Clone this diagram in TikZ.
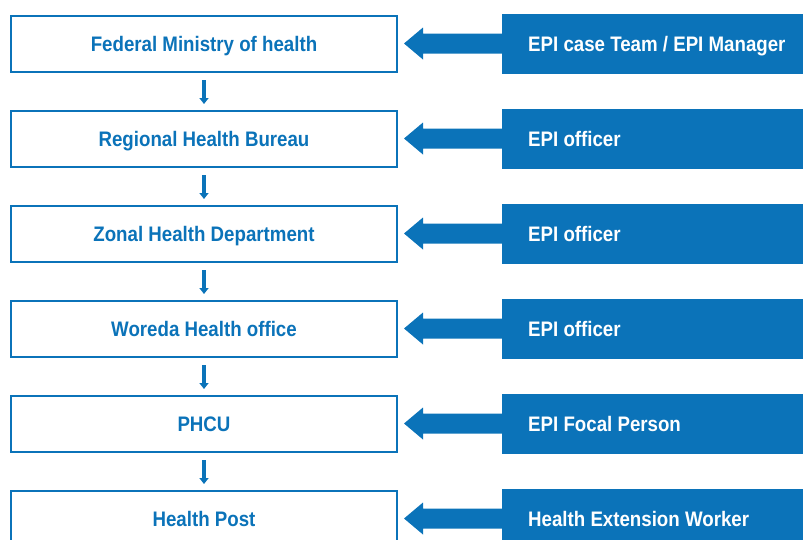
\documentclass[tikz,border=0pt]{standalone}
\usepackage{fontspec}
\setmainfont{Liberation Sans}[FakeStretch=0.89]
\usetikzlibrary{arrows.meta}
\definecolor{epiblue}{RGB}{11,115,185}
\newcommand\tightwords{\spaceskip=5.2pt\relax}
\begin{document}
\begin{tikzpicture}[x=1pt,y=-1pt,
  levelbox/.style={draw=epiblue,line width=2pt,fill=white,minimum width=386pt,minimum height=56pt,inner sep=0pt,text height=15pt,text depth=0pt,text=epiblue,font=\fontsize{21}{24}\selectfont\bfseries},
  rolebox/.style={fill=epiblue,minimum height=60pt,inner sep=0pt,text width=301pt,align=left,text height=15pt,text depth=0pt,text=white,font=\fontsize{21}{24}\selectfont\bfseries,anchor=west},
  downarrow/.style={draw=epiblue,line width=4pt,-{Triangle[width=9pt,length=6pt]}},
  fatarrow/.style={fill=epiblue,draw=none}]
\useasboundingbox (0,0) rectangle (803,539);
\begin{scope}
\clip (0,0) rectangle (803,539);
\foreach \i/\lvl/\role in {0/{Federal Ministry of health}/{EPI case Team / EPI Manager},
  1/{Regional Health Bureau}/{EPI officer},
  2/{Zonal Health Department}/{EPI officer},
  3/{Woreda Health office}/{EPI officer},
  4/{PHCU}/{EPI Focal Person},
  5/{Health Post}/{Health Extension Worker}}{
  \pgfmathsetmacro{\cy}{43.5+95*\i}
  \node[levelbox] (L\i) at (204,\cy+0.5) {\lvl};
  \node[rolebox] (R\i) at (502,\cy) {\tightwords\hspace*{26pt}\role};
  \coordinate (T\i) at (404,\cy);
  \fill[fatarrow] (T\i) -- ++(19,-16) -- ++(0,6) -- (R\i.west |- 0,\cy-10) -- (R\i.west |- 0,\cy+10) -- ++(-79,0) -- ++(0,6) -- cycle;
}
\foreach \i [evaluate=\i as \j using int(\i+1)] in {0,...,4}{
  \draw[downarrow] ([yshift=-7pt]L\i.south) -- ([yshift=6pt]L\j.north);
}
\end{scope}
\end{tikzpicture}
\end{document}
